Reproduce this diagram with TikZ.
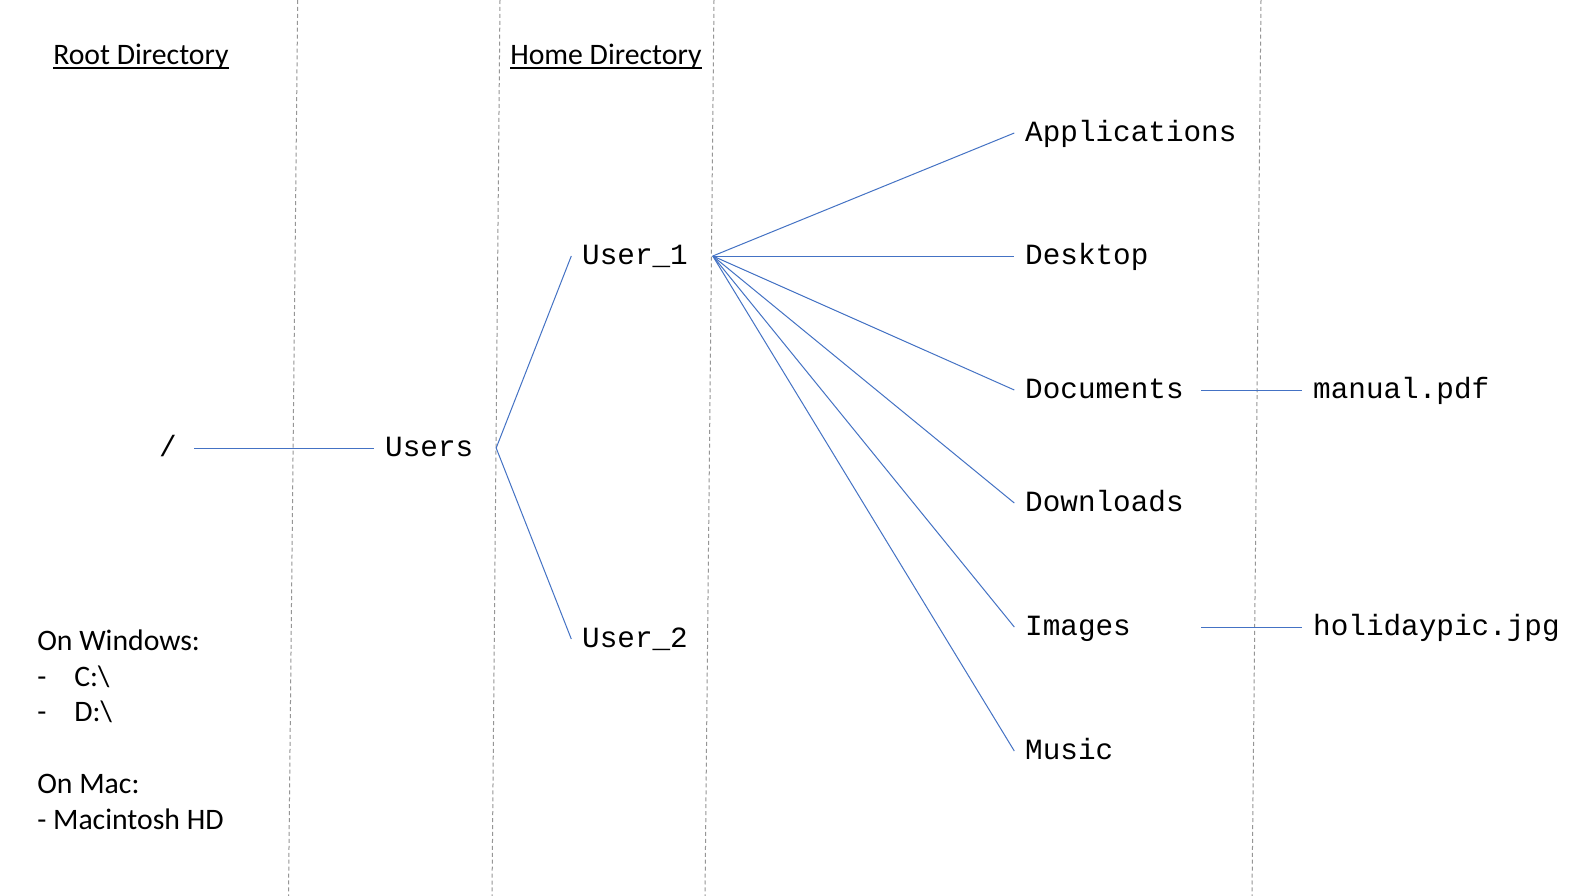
\documentclass[tikz,border=0pt]{standalone}
\usepackage{fontspec}
\setmainfont{Carlito}
\newfontfamily\monofam{Liberation Mono}
\definecolor{linkblue}{RGB}{68,114,196}
\definecolor{guidegray}{RGB}{150,150,150}
\tikzset{
  dir/.style={font=\monofam\fontsize{22}{26}\selectfont, anchor=west, inner xsep=8pt, inner ysep=0pt, text height=13.2pt, text depth=0pt},
  link/.style={draw=linkblue, line width=0.75pt},
  guide/.style={draw=guidegray, line width=0.75pt, dash pattern=on 3pt off 2.2pt},
  head/.style={font=\fontsize{22.3}{26}\selectfont, anchor=base west, inner sep=0pt},
  note/.style={font=\fontsize{22.3}{26}\selectfont, anchor=base west, inner sep=0pt},
}
\begin{document}
\begin{tikzpicture}[x=0.75pt, y=-0.75pt]
\useasboundingbox (0,0) rectangle (1593,896);
\fill[white] (0,0) rectangle (1593,896);
% guide lines
\draw[guide] (297.7,0) -- (288.5,896);
\draw[guide] (500,0) -- (492,896);
\draw[guide] (714,0) -- (705,896);
\draw[guide] (1261,0) -- (1252,896);
% headings
\node[head] (rd) at (53,64) {Root Directory};
\node[head] (hd) at (510,64) {Home Directory};
\draw[line width=1.6pt] ([yshift=-3pt]rd.base west) -- ([yshift=-3pt]rd.base east);
\draw[line width=1.6pt] ([yshift=-3pt]hd.base west) -- ([yshift=-3pt]hd.base east);
% tree nodes
\node[dir] (root) at (148.3,448) {/};
\node[dir] (users) at (374.3,448) {Users};
\node[dir] (u1) at (571.3,256) {User\_1};
\node[dir] (u2) at (571.3,639) {User\_2};
\node[dir] (apps) at (1014.3,133) {Applications};
\node[dir] (desk) at (1014.3,256) {Desktop};
\node[dir] (docs) at (1014.3,390) {Documents};
\node[dir] (down) at (1014.3,503) {Downloads};
\node[dir] (imgs) at (1014.3,627) {Images};
\node[dir] (music) at (1014.3,751) {Music};
\node[dir] (man) at (1302.3,390) {manual.pdf};
\node[dir] (hol) at (1302.3,627) {holidaypic.jpg};
% connectors
\coordinate (usersR) at ([xshift=9pt]users.east);
\coordinate (u1R) at ([xshift=10.5pt]u1.east);
\coordinate (docsR) at ([xshift=5pt]docs.east);
\draw[link] ([xshift=5pt]root.east) -- (users.west);
\draw[link] (usersR) -- (u1.west);
\draw[link] (usersR) -- (u2.west);
\foreach \t in {apps,desk,docs,down,imgs,music}
  \draw[link] (u1R) -- (\t.west);
\draw[link] (docsR) -- (man.west);
\draw[link] (docsR |- imgs.west) -- (hol.west);
% notes
\node[note] (w1) at (37,650) {On Windows:};
\node[note] (w2) at (37,686) {-};
\node[note] (w2b) at (74,686) {C:\textbackslash};
\node[note] (w3) at (37,721) {-};
\node[note] (w3b) at (74,721) {D:\textbackslash};
\node[note] (m1) at (37,793) {On Mac:};
\node[note] (m2) at (37,829) {- Macintosh HD};
\end{tikzpicture}
\end{document}
